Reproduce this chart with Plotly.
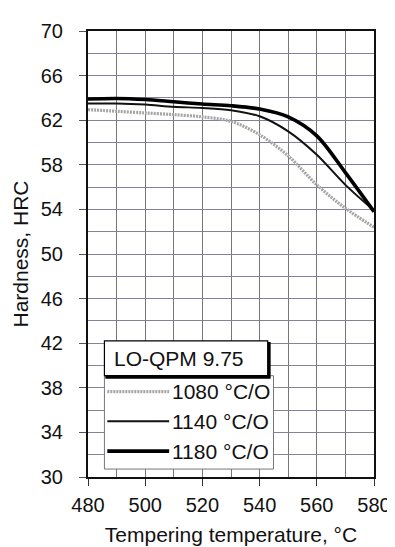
import plotly.graph_objects as go

# Data
temps = [480, 490, 500, 510, 520, 530, 540, 550, 560, 570, 580]
h_1080 = [62.95, 62.8, 62.65, 62.5, 62.3, 61.9, 60.7, 58.8, 56.2, 54.1, 52.4]
h_1140 = [63.5, 63.5, 63.4, 63.2, 63.1, 62.9, 62.35, 61.0, 58.9, 56.2, 53.9]
h_1180 = [63.9, 63.95, 63.85, 63.65, 63.45, 63.3, 63.0, 62.3, 60.6, 57.3, 53.8]
series_names = ["1080 °C/O", "1140 °C/O", "1180 °C/O"]
legend_title = "LO-QPM 9.75"
x_ticks = [480, 500, 520, 540, 560, 580]
y_ticks = [30, 34, 38, 42, 46, 50, 54, 58, 62, 66, 70]

FONT = "Liberation Sans, Arial, sans-serif"
styles = [
    dict(color="#a6a6a6", width=3.2, dash="2px,1px"),
    dict(color="#111111", width=2),
    dict(color="#000000", width=3.6),
]

W, H = 395, 547
L, R, T, B = 80, 19, 21, 77
PW, PH = W - L - R, H - T - B


def px(xp):
    return (xp - L) / PW


def py(yp):
    return (H - B - yp) / PH


fig = go.Figure()
for name, vals, st in zip(series_names, [h_1080, h_1140, h_1180], styles):
    fig.add_trace(go.Scatter(x=temps, y=vals, mode="lines", name=name,
                             line=dict(shape="spline", smoothing=0.9, **st),
                             showlegend=False))

shapes = []
annotations = []
# legend entries box
shapes.append(dict(type="rect", xref="paper", yref="paper",
                   x0=px(97), x1=px(272), y0=py(462), y1=py(368),
                   line=dict(color="#777777", width=1), fillcolor="white", layer="above"))
# title box with shadow
shapes.append(dict(type="rect", xref="paper", yref="paper",
                   x0=px(99), x1=px(268), y0=py(370), y1=py(335),
                   line=dict(color="#000000", width=2), fillcolor="#000000", layer="above"))
shapes.append(dict(type="rect", xref="paper", yref="paper",
                   x0=px(97), x1=px(266), y0=py(368), y1=py(333),
                   line=dict(color="#000000", width=1.2), fillcolor="white", layer="above"))
annotations.append(dict(text=legend_title, xref="paper", yref="paper",
                        x=px(105), y=py(351), xanchor="left", yanchor="middle",
                        showarrow=False, font=dict(family=FONT, size=21, color="#111")))
rows = [384, 414, 444]
for name, st, yr in zip(series_names, styles, rows):
    shapes.append(dict(type="line", xref="paper", yref="paper",
                       x0=px(100), x1=px(164), y0=py(yr), y1=py(yr),
                       line=st, layer="above"))
    annotations.append(dict(text=name, xref="paper", yref="paper",
                            x=px(165), y=py(yr), xanchor="left", yanchor="middle",
                            showarrow=False, font=dict(family=FONT, size=21, color="#111")))

fig.update_layout(
    width=W, height=H,
    margin=dict(l=L, r=R, t=T, b=B),
    paper_bgcolor="white", plot_bgcolor="white",
    font=dict(family=FONT, size=20, color="#111"),
    showlegend=False,
    shapes=shapes,
    annotations=annotations,
    xaxis=dict(range=[480, 580], tickvals=x_ticks, ticks="outside", ticklen=7,
               tickcolor="#333", showgrid=True, gridcolor="#777777", gridwidth=1.2,
               minor=dict(dtick=10, showgrid=True, gridcolor="#777777", gridwidth=1.2),
               showline=True, linecolor="#111", linewidth=2, mirror=True,
               tickfont=dict(size=20), zeroline=False, ticklabelstandoff=2,
               title=dict(text="Tempering temperature, °C", font=dict(size=21), standoff=12)),
    yaxis=dict(range=[30, 70], tickvals=y_ticks, ticks="outside", ticklen=7,
               tickcolor="#555", showgrid=True, gridcolor="#8a7f98", gridwidth=1,
               minor=dict(dtick=2, showgrid=True, gridcolor="#8a7f98", gridwidth=1),
               showline=True, linecolor="#111", linewidth=2, mirror=True,
               tickfont=dict(size=20), zeroline=False, ticklabelstandoff=12,
               title=dict(text="Hardness, HRC", font=dict(size=21), standoff=6)),
)

fig.write_html("out.html")
